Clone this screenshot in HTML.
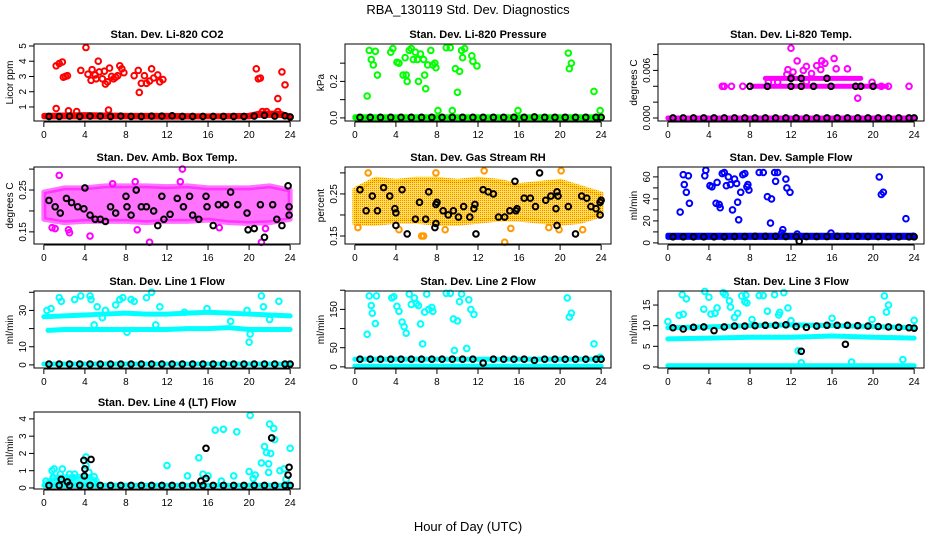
<!DOCTYPE html>
<html><head><meta charset="utf-8"><style>
html,body{margin:0;padding:0;background:#fff}
svg text{font-family:"Liberation Sans",sans-serif}
</style></head><body>
<svg id="chart" width="936" height="540" viewBox="0 0 936 540" xmlns="http://www.w3.org/2000/svg">
<defs>
<pattern id="ry" width="2" height="2" patternUnits="userSpaceOnUse"><rect width="2" height="2" fill="#ffd800"/><rect width="1" height="1" fill="#ff5000"/></pattern>
</defs>
<text x="468" y="14" text-anchor="middle" font-size="13">RBA_130119  Std. Dev. Diagnostics</text>
<text x="468" y="531" text-anchor="middle" font-size="13">Hour of Day (UTC)</text>
</svg>
<script>
const hours = [0,1,2,3,4,5,6,7,8,9,10,11,12,13,14,15,16,17,18,19,20,21,22,23,24];
const xTicks = [0,4,8,12,16,20,24];

// CO2
const co2BandX = [0,4,8,12,16,20,21,23,24];
const co2BandLow = [0.35,0.35,0.35,0.33,0.35,0.35,0.45,0.45,0.35];
const co2BandHigh = [0.45,0.5,0.45,0.45,0.42,0.45,0.6,0.6,0.4];
const co2Black = [0.38,0.38,0.4,0.38,0.4,0.4,0.38,0.4,0.38,0.38,0.4,0.4,0.42,0.38,0.38,0.38,0.38,0.38,0.38,0.38,0.4,0.45,0.4,0.42,0.35];
const co2Out = [[1.2,3.7],[1.5,3.85],[1.8,3.95],[1.9,2.95],[2.1,3.0],[2.3,3.05],[3.6,3.4],[4.1,4.9],[4.3,3.15],[4.6,2.75],[4.7,3.45],[5.0,3.1],[5.1,2.85],[5.3,4.0],[5.4,3.3],[5.7,2.85],[5.9,3.35],[6.0,2.5],[6.2,2.65],[6.4,3.55],[6.6,3.0],[6.8,2.85],[7.0,2.95],[7.2,3.05],[7.4,3.7],[7.6,3.5],[7.8,3.25],[8.8,3.05],[9.2,3.4],[9.3,1.95],[9.5,2.55],[9.8,3.05],[10.0,2.55],[10.3,2.7],[10.5,3.5],[10.7,2.9],[11.1,3.1],[11.3,2.65],[11.6,2.8],[20.7,3.5],[20.9,2.85],[21.1,2.9],[22.8,1.55],[23.2,3.3],[23.5,2.45],[1.2,0.9],[2.4,0.75],[3.2,0.7],[6.3,0.8],[21.3,0.7],[21.7,0.7],[22.8,0.7]];

// Pressure
const presBandX = [0,24];
const presBandLow = [0.0,0.0];
const presBandHigh = [0.006,0.006];
const presBlack = [0.003,0.003,0.003,0.003,0.003,0.003,0.003,0.003,0.003,0.003,0.003,0.003,0.003,0.003,0.003,0.003,0.003,0.005,0.003,0.003,0.003,0.003,0.003,0.003,0.003];
const presOut = [[1.2,0.12],[1.4,0.37],[1.6,0.32],[1.8,0.29],[2.0,0.365],[2.2,0.235],[3.5,0.36],[3.7,0.38],[4.1,0.305],[4.3,0.3],[4.7,0.235],[4.9,0.33],[5.0,0.235],[5.1,0.2],[5.3,0.37],[5.5,0.38],[5.7,0.32],[5.9,0.36],[6.1,0.32],[6.2,0.2],[6.4,0.35],[6.7,0.32],[6.8,0.235],[6.9,0.16],[7.1,0.29],[7.4,0.37],[7.6,0.29],[7.8,0.3],[7.9,0.275],[8.1,0.04],[8.9,0.385],[9.3,0.385],[9.5,0.04],[9.8,0.27],[10.0,0.14],[10.2,0.255],[10.4,0.37],[10.5,0.33],[10.7,0.38],[11.4,0.34],[11.5,0.31],[11.9,0.285],[15.9,0.04],[20.8,0.355],[20.9,0.27],[21.1,0.3],[23.3,0.145],[23.9,0.04]];

// Li-820 Temp
const tempBand0X = [0,24];
const tempBand0Y = [0,0];
const tempBand4X = [8.2,21.3];
const tempBand4Y = [0.004,0.004];
const tempBand5X = [9.5,18.8];
const tempBand5Y = [0.005,0.005];
const tempBlack0 = [0,0,0,0,0,0,0,0,0,0,0,0,0,0,0,0,0,0,0,0,0,0,0,0,0];
const tempBlackOther = [[8,0.004],[9.7,0.004],[12,0.004],[13,0.004],[14.2,0.004],[15.9,0.004],[18.3,0.004],[18.8,0.004],[20,0.004],[12,0.005],[13,0.005],[15.5,0.005]];
const tempOut = [[12,0.0088],[12.6,0.0072],[13.5,0.0065],[11.7,0.0061],[16.2,0.0075],[15.0,0.0072],[14.5,0.0066],[15.3,0.0069],[17.5,0.0062],[14.0,0.0056],[11.6,0.0055],[9.8,0.0045],[10.7,0.0045],[13.5,0.0046],[19.9,0.0045],[18.5,0.0025],[16.4,0.0062],[14.9,0.0061],[12.2,0.0058],[5.3,0.004],[5.5,0.004],[6.2,0.004],[7.3,0.004],[23.5,0.004],[21.5,0.004],[13.2,0.0060],[20.8,0.004]];

// Amb box temp
const ambCloudX = [0,2,4,6,8,10,12,14,16,18,20,22,24];
const ambCloudLow = [0.18,0.172,0.175,0.175,0.175,0.172,0.175,0.175,0.178,0.172,0.17,0.172,0.18];
const ambCloudHigh = [0.245,0.255,0.255,0.26,0.26,0.26,0.258,0.26,0.255,0.255,0.255,0.26,0.25];
const ambBlack = [[0.5,0.225],[1.1,0.21],[1.6,0.195],[2.2,0.23],[2.7,0.22],[3.3,0.21],[3.9,0.205],[4,0.255],[4.5,0.19],[5,0.18],[5.5,0.18],[6,0.175],[6.5,0.21],[7,0.195],[8,0.235],[8.1,0.21],[8.5,0.19],[9,0.25],[9.5,0.21],[10,0.21],[10.7,0.2],[11.1,0.165],[11.5,0.235],[11.7,0.18],[12.3,0.192],[13,0.23],[13.6,0.21],[14.2,0.235],[14.5,0.19],[15.1,0.18],[15.8,0.235],[15.9,0.21],[16.5,0.165],[17,0.215],[17.7,0.215],[18.2,0.245],[18.9,0.215],[19.8,0.195],[19.9,0.155],[20.5,0.158],[21.1,0.215],[21.5,0.137],[22.3,0.215],[22.7,0.18],[23.2,0.165],[23.8,0.26],[23.9,0.21],[23.9,0.19]];
const ambOut = [[1.5,0.285],[13.5,0.3],[2.4,0.155],[2.5,0.148],[10.3,0.125],[21.2,0.125],[9.1,0.155],[4.5,0.14],[0.8,0.16],[1.1,0.158],[13.3,0.27],[6.7,0.265],[8.9,0.27],[21.6,0.158],[17.1,0.16]];

// Gas stream RH
const rhCloudX = [0,2,4,6,8,10,12,14,16,18,20,22,24];
const rhCloudLow = [0.18,0.18,0.185,0.185,0.18,0.18,0.185,0.19,0.19,0.185,0.18,0.185,0.2];
const rhCloudHigh = [0.26,0.285,0.28,0.285,0.285,0.28,0.285,0.28,0.27,0.275,0.28,0.265,0.25];
const rhBlack = [[0.5,0.26],[1.1,0.21],[1.7,0.245],[2.2,0.21],[2.8,0.265],[3.4,0.245],[3.9,0.215],[4,0.205],[4,0.175],[4.6,0.26],[5.1,0.155],[5.9,0.19],[6.3,0.23],[6.9,0.19],[7.2,0.255],[7.8,0.17],[7.9,0.18],[7.9,0.225],[8.0,0.23],[8.6,0.21],[9.1,0.2],[9.6,0.21],[10.1,0.195],[10.6,0.22],[11.2,0.195],[11.6,0.215],[11.7,0.225],[11.8,0.155],[12.5,0.26],[13,0.255],[13.5,0.25],[14,0.195],[14.6,0.195],[15.1,0.21],[15.6,0.28],[15.7,0.21],[15.8,0.215],[16.5,0.24],[17.1,0.24],[17.6,0.22],[18,0.3],[18.6,0.235],[19.1,0.245],[19.6,0.215],[19.7,0.175],[19.7,0.255],[19.8,0.245],[20.8,0.22],[21.5,0.155],[22.1,0.245],[22.6,0.24],[23,0.22],[23.5,0.215],[23.9,0.23],[23.9,0.2],[24,0.235]];
const rhOut = [[14.6,0.135],[15.2,0.168],[6.5,0.15],[6.7,0.15],[8.8,0.165],[0.3,0.17],[4.3,0.165],[12.6,0.305],[20.1,0.305],[1.3,0.3],[7.9,0.3],[19.9,0.165],[22.2,0.165],[18.9,0.17]];

// Sample flow
const sfBandX = [0,24];
const sfBandLow = [5,5];
const sfBandHigh = [7,7];
const sfBlack = [5.5,5.5,5.5,5.5,5.5,5.5,5.8,5.8,6,6,6,5.8,5.8,5.8,5.8,5.8,6,6,6,5.8,5.8,5.5,5.5,5.5,5.5];
const sfBlackOther = [[12.8,1.5]];
const sfOut = [[1.2,28],[1.5,62],[1.6,53],[1.8,46],[2.0,61],[2.1,36],[3.6,61],[3.7,66],[4.1,52],[4.3,51],[4.7,36],[4.8,55],[5.0,35],[5.1,32],[5.3,63],[5.5,64],[5.7,52],[5.9,60],[6.1,53],[6.3,30],[6.5,58],[6.7,54],[6.8,37],[6.9,21],[7.1,46],[7.3,62],[7.5,63],[7.7,51],[7.8,53],[7.9,48],[8.9,64],[9.3,64],[9.7,42],[10.0,18],[10.1,40],[10.4,64],[10.5,56],[10.7,64],[11.1,9],[11.2,12],[11.5,58],[11.6,50],[11.9,46],[12.6,8],[15.9,9],[20.6,60],[20.8,44],[21.0,46],[23.2,22],[23.9,6]];

// Line 1 flow
const l1UpperX = [0,2,4,6,8,10,12,14,16,18,20,22,24];
const l1UpperY = [26.5,27,27.5,28,28.5,28,28,28.5,29,28.5,28,27.5,27];
const l1MidX = [0.4,2,4,6,8,10,12,14,16,18,20,22,24];
const l1MidY = [19,19.5,19.5,19.5,19.5,19.5,19.5,20,20,20.5,19.5,19.5,19.5];
const l1LowX = [0,24];
const l1LowY = [0.5,0.5];
const l1Black = [0.5,0.5,0.5,0.5,0.5,0.5,0.5,0.5,0.5,0.5,0.5,0.5,0.5,0.5,0.5,0.5,0.5,0.5,0.5,0.5,0.5,0.5,0.5,0.5,0.5];
const l1Out = [[0.3,30],[0.7,31],[1.5,37],[1.7,35],[3,36],[3.6,38],[4.5,38],[4.6,36],[5.2,32],[5.7,26],[4.9,22],[6.0,30],[7.0,33],[7.4,36],[7.7,37],[8.1,18],[8.5,36],[8.8,35],[10,37],[10.5,40],[10.9,22],[11.3,32],[13.7,29],[15.9,31],[19.8,30],[20.1,17],[20.0,12.5],[21.2,38],[21.4,32],[22.9,35],[22,25],[18.2,24]];

// Line 2 flow
const l2HighX = [0,24];
const l2HighY = [20,20];
const l2LowX = [0,24];
const l2LowY = [2,2];
const l2Black = [20,20,20,20,20,20,20,20,20,20,20,20,10,20,20,20,20,17,20,20,20,20,20,20,20];
const l2Out = [[1.2,85],[1.4,185],[1.6,160],[1.7,140],[2.0,113],[2.1,185],[3.6,180],[3.8,183],[4.1,158],[4.3,145],[4.6,117],[4.8,105],[5.0,88],[5.3,190],[5.5,163],[5.8,180],[6.0,165],[6.2,160],[6.4,112],[6.6,60],[6.8,143],[7.0,190],[7.2,150],[7.5,155],[7.6,145],[8.9,192],[9.3,192],[9.6,125],[9.7,43],[10.0,120],[10.2,170],[10.4,190],[10.9,48],[11.1,175],[11.3,150],[11.6,137],[20.7,180],[20.9,130],[21.1,140],[23.3,60],[23.9,25]];

// Line 3 flow
const l3HighX = [0,4,8,12,16,20,24];
const l3HighY = [9.5,9.7,10,10.2,10,9.8,9.5];
const l3MidX = [0,4,8,12,16,20,24];
const l3MidY = [6.8,7,7.2,7.2,7.5,7.2,7];
const l3LowX = [0,24];
const l3LowY = [0.3,0.3];
const l3Black = [9.5,9.2,9.6,9.7,8.8,9.7,9.9,9.9,10,10.1,10.1,10.2,9.8,9.6,9.9,10.1,10.1,10.1,10,9.9,9.8,9.7,9.6,9.5,9.4];
const l3BlackOther = [[13,3.8],[17.3,5.5]];
const l3Out = [[0,11],[1.1,12.5],[1.4,17.5],[1.8,16.5],[1.5,12.8],[3.5,14],[3.6,18.3],[4,16.9],[4.2,12.8],[4.8,14.3],[4.6,13],[5.4,18],[5.6,17.5],[6,16],[6.1,14.5],[6.5,12],[6.8,13],[7.2,17.2],[7.5,15.8],[7.6,17.4],[7.7,15.5],[8.9,17.3],[9.3,17.3],[9.7,13.5],[10.4,17.5],[10.8,12.6],[10.9,13.2],[11.3,18],[11.7,14.3],[12,11.2],[12.7,3.9],[16,11.8],[19.9,11.5],[21.1,17.2],[21.3,13.3],[21.5,15],[24,11.3],[13,1],[17.9,1.2],[22.9,1.8],[8.2,11.5]];

// Line 4 flow
const l4BandX = [0,24];
const l4BandY = [0.15,0.15];
const l4ClusterX = [0.2,1,2,3,4,4.5,5.2];
const l4ClusterLow = [0.15,0.15,0.15,0.15,0.15,0.15,0.15];
const l4ClusterHigh = [0.3,0.6,0.65,0.65,0.7,0.6,0.45];
const l4Black = [0.15,0.15,0.15,0.15,0.15,0.15,0.15,0.15,0.15,0.15,0.15,0.15,0.15,0.15,0.15,0.15,0.15,0.15,0.15,0.15,0.15,0.15,0.15,0.15,0.15];
const l4BlackOther = [[1.7,0.5],[2.3,0.35],[3.9,1.6],[3.95,0.7],[4.0,1.1],[4.6,1.65],[15.3,0.4],[15.8,0.55],[15.8,2.3],[22.2,2.9],[23.8,0.75],[23.9,1.2]];
const l4Out = [[0.2,0.4],[0.8,1.0],[1.0,1.1],[0.9,0.6],[1.8,1.1],[1.6,0.8],[2.5,0.8],[2.8,0.6],[3.0,0.8],[4.1,1.8],[4.1,1.3],[4.4,0.9],[4.9,0.65],[12,1.3],[14,0.7],[15.1,1.75],[15.5,0.8],[16.7,3.35],[17.5,3.4],[16,0.7],[17.3,0.4],[18.5,0.7],[18.8,3.25],[20,0.95],[20.1,4.2],[20.4,0.55],[20.6,0.75],[21.2,1.45],[21.5,2.4],[21.7,2.05],[21.9,1.4],[21.9,0.9],[22.0,3.7],[22.1,2.0],[22.4,3.45],[22.5,2.8],[23.0,1.0],[23.4,1.1],[23.6,0.5],[24,2.3]];

const svg = document.getElementById('chart');
const NS = 'http://www.w3.org/2000/svg';
function mk(tag, attrs, parent){ const e=document.createElementNS(NS,tag); for(const k in attrs) e.setAttribute(k,attrs[k]); (parent||svg).appendChild(e); return e; }

const colX = [34,345,658], rowY = [44,167,291,412], W = 266, H = 77;

function makePanel(key, col, row, title, ylab, ymin, ymax, ticks, labels){
  const x0 = colX[col], y0 = rowY[row];
  const g = mk('g',{});
  
  
  const sx = h => x0 + (h + 0.96) / 25.92 * W;
  const sy = v => y0 + (ymax - v) / (ymax - ymin) * H;
  const t = mk('text',{x:x0+W/2,y:y0-6,'text-anchor':'middle','font-size':'11','font-weight':'bold'},g);
  t.textContent = title;
  
  
  const plot = mk('g',{},g);
  
  
  const box = mk('rect',{x:x0,y:y0,width:W,height:H,fill:'none',stroke:'#000','stroke-width':1},g);
  
  
  const xa = mk('g',{},g);
  
  
  mk('line',{x1:sx(0),x2:sx(24),y1:y0+H+1,y2:y0+H+1,stroke:'#000'},xa);
  xTicks.forEach(v=>{
    mk('line',{x1:sx(v),x2:sx(v),y1:y0+H+1,y2:y0+H+6,stroke:'#000'},xa);
    const tl = mk('text',{x:sx(v),y:y0+H+17,'text-anchor':'middle','font-size':'10'},xa);
    tl.textContent = v;
    
    
  });
  const ya = mk('g',{},g);
  
  
  mk('line',{x1:x0,x2:x0,y1:sy(ticks[0]),y2:sy(ticks[ticks.length-1]),stroke:'#000'},ya);
  ticks.forEach((v,i)=>{
    mk('line',{x1:x0,x2:x0-5,y1:sy(v),y2:sy(v),stroke:'#000'},ya);
    if(labels[i]!==''){
      const tl = mk('text',{x:x0-8,y:sy(v),'text-anchor':'middle','font-size':'10',transform:`rotate(-90 ${x0-8} ${sy(v)})`},ya);
      tl.textContent = labels[i];
      
      
    }
  });
  const yl = mk('text',{x:x0-21,y:y0+H/2,'text-anchor':'middle','font-size':'10',transform:`rotate(-90 ${x0-21} ${y0+H/2})`},g);
  yl.textContent = ylab;
  
  
  return {sx, sy, plot};
}

function area(p, xs, lo, hi, color, name, op){
  const pts = xs.map((x,i)=>p.sx(x)+','+p.sy(hi[i])).concat(xs.map((x,i)=>p.sx(x)+','+p.sy(lo[i])).reverse()).join(' ');
  const e = mk('polygon',{points:pts,fill:color,stroke:color,'stroke-width':5,'stroke-linejoin':'round','fill-opacity':op||1,'stroke-opacity':op||1},p.plot);
  
  
}
function band(p, xs, ys, color, name){
  const e = mk('polyline',{points:xs.map((x,i)=>p.sx(x)+','+p.sy(ys[i])).join(' '),fill:'none',stroke:color,'stroke-width':5,'stroke-linecap':'round'},p.plot);
  
  
}
function pts(p, pairs, color, name){
  pairs.forEach(d=>{
    const c = mk('circle',{cx:p.sx(d[0]),cy:p.sy(d[1]),r:2.8,fill:'none',stroke:color,'stroke-width':2},p.plot);
    
    
  });
}
function hourly(p, vals, color, name){
  vals.forEach((v,i)=>{
    const c = mk('circle',{cx:p.sx(hours[i]+0.5>24?24:hours[i]+0.5),cy:p.sy(v),r:2.8,fill:'none',stroke:color,'stroke-width':2},p.plot);
    
    
  });
}

let p;
p = makePanel('co2',0,0,'Stan. Dev. Li-820 CO2','Licor ppm',0.08,5.13,[1,2,3,4,5],['1','2','3','4','5']);
area(p,co2BandX,co2BandLow,co2BandHigh,'#ff0000','co2-band');
pts(p,co2Out,'#ff0000','co2-point');
hourly(p,co2Black,'#000','co2-mean-point');

p = makePanel('pressure',1,0,'Stan. Dev. Li-820 Pressure','kPa',-0.017,0.405,[0,0.1,0.2,0.3],['0.0','','0.2','']);
area(p,presBandX,presBandLow,presBandHigh,'#00ff00','pressure-band');
pts(p,presOut,'#00ff00','pressure-point');
hourly(p,presBlack,'#000','pressure-mean-point');

p = makePanel('li820-temp',2,0,'Stan. Dev. Li-820 Temp.','degrees C',-0.00038,0.00933,[0,0.002,0.004,0.006,0.008],['0.000','','','0.006','']);
band(p,tempBand0X,tempBand0Y,'#ff00ff','temp-band-0');
band(p,tempBand4X,tempBand4Y,'#ff00ff','temp-band-4');
band(p,tempBand5X,tempBand5Y,'#ff00ff','temp-band-5');
pts(p,tempOut,'#ff00ff','temp-point');
hourly(p,tempBlack0,'#000','temp-mean-point');
pts(p,tempBlackOther,'#000','temp-mean-point');

p = makePanel('amb-temp',0,1,'Stan. Dev. Amb. Box Temp.','degrees C',0.121,0.305,[0.15,0.2,0.25,0.3],['0.15','','0.25','']);
area(p,ambCloudX,ambCloudLow,ambCloudHigh,'#ff00ff','amb-temp-cloud',0.55);
pts(p,ambOut,'#ff00ff','amb-temp-point');
pts(p,ambBlack,'#000','amb-temp-mean-point');

p = makePanel('rh',1,1,'Stan. Dev. Gas Stream RH','percent',0.131,0.314,[0.15,0.2,0.25,0.3],['0.15','','0.25','']);
area(p,rhCloudX,rhCloudLow,rhCloudHigh,'url(#ry)','rh-cloud',0.75);
pts(p,rhOut,'#ff9900','rh-point');
pts(p,rhBlack,'#000','rh-mean-point');

p = makePanel('sample-flow',2,1,'Stan. Dev. Sample Flow','ml/min',-1,69,[0,10,20,30,40,50,60],['0','','20','','40','','60']);
area(p,sfBandX,sfBandLow,sfBandHigh,'#0000ff','sample-flow-band');
pts(p,sfOut,'#0000ff','sample-flow-point');
hourly(p,sfBlack,'#000','sample-flow-mean-point');
pts(p,sfBlackOther,'#000','sample-flow-mean-point');

p = makePanel('line1',0,2,'Stan. Dev. Line 1 Flow','ml/min',-1.7,40.7,[0,10,20,30,40],['0','10','','30','']);
band(p,l1UpperX,l1UpperY,'#00ffff','line1-upper-band');
band(p,l1MidX,l1MidY,'#00ffff','line1-mid-band');
band(p,l1LowX,l1LowY,'#00ffff','line1-low-band');
pts(p,l1Out,'#00ffff','line1-point');
hourly(p,l1Black,'#000','line1-mean-point');

p = makePanel('line2',1,2,'Stan. Dev. Line 2 Flow','ml/min',-3,198,[0,50,100,150,200],['0','50','','150','']);
band(p,l2HighX,l2HighY,'#00ffff','line2-high-band');
band(p,l2LowX,l2LowY,'#00ffff','line2-low-band');
pts(p,l2Out,'#00ffff','line2-point');
hourly(p,l2Black,'#000','line2-mean-point');

p = makePanel('line3',2,2,'Stan. Dev. Line 3 Flow','ml/min',-0.25,18.4,[0,5,10,15],['0','5','10','15']);
band(p,l3HighX,l3HighY,'#00ffff','line3-high-band');
band(p,l3MidX,l3MidY,'#00ffff','line3-mid-band');
band(p,l3LowX,l3LowY,'#00ffff','line3-low-band');
pts(p,l3Out,'#00ffff','line3-point');
hourly(p,l3Black,'#000','line3-mean-point');
pts(p,l3BlackOther,'#000','line3-mean-point');

p = makePanel('line4',0,3,'Stan. Dev. Line 4 (LT) Flow','ml/min',-0.06,4.4,[0,1,2,3,4],['0','1','2','3','4']);
band(p,l4BandX,l4BandY,'#00ffff','line4-band');
area(p,l4ClusterX,l4ClusterLow,l4ClusterHigh,'#00ffff','line4-cluster',0.8);
pts(p,l4Out,'#00ffff','line4-point');
hourly(p,l4Black,'#000','line4-mean-point');
pts(p,l4BlackOther,'#000','line4-mean-point');
</script>
</body></html>
